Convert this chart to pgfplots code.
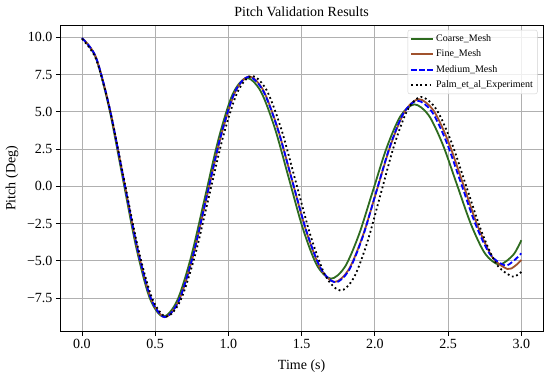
\documentclass[border=0pt]{standalone}
\usepackage{fontspec}
\setmainfont{Liberation Serif}
\usepackage{pgfplots}
\pgfplotsset{compat=1.18}
\definecolor{cgreen}{RGB}{46,107,31}
\definecolor{cbrown}{RGB}{160,82,45}
\definecolor{cblue}{RGB}{0,0,255}
\definecolor{cgrid}{RGB}{176,176,176}
\begin{document}
\begin{tikzpicture}
\useasboundingbox (-60pt,-46.3pt) rectangle (490pt,331.7pt);
\begin{axis}[
  at={(0,0)}, anchor=south west,
  scale only axis, width=483.3pt, height=306.7pt,
  xmin=-0.15, xmax=3.15, ymin=-9.76, ymax=10.83,
  xtick={0,0.5,1,1.5,2,2.5,3},
  xticklabels={0.0,0.5,1.0,1.5,2.0,2.5,3.0},
  ytick={-7.5,-5,-2.5,0,2.5,5,7.5,10},
  yticklabels={−7.5,−5.0,−2.5,0.0,2.5,5.0,7.5,10.0},
  tick align=outside, major tick length=4pt,
  tick style={black, line width=0.8pt},
  xtick pos=bottom, ytick pos=left,
  axis line style={black, line width=0.8pt},
  grid=major, major grid style={cgrid, line width=0.8pt},
  font=\fontsize{14}{16}\selectfont,
  ticklabel style={font=\fontsize{14}{16}\selectfont},
  title={Pitch Validation Results},
  title style={at={(0.5,1)}, anchor=base, yshift=2.5pt, font=\fontsize{14}{16}\selectfont},
  xlabel={Time (s)},
  xlabel style={at={(0.5,0)}, anchor=base, yshift=-38.3pt, font=\fontsize{14}{16}\selectfont},
  ylabel={Pitch (Deg)},
  ylabel style={at={(-0.0921,0.5)}, anchor=base, font=\fontsize{14}{16}\selectfont},
  legend cell align=left,
  legend style={at={(0.988,0.984)}, anchor=north east, font=\fontsize{10}{12}\selectfont,
    draw=gray!35, rounded corners=2pt, fill=white, fill opacity=0.8, text opacity=1,
    inner sep=2.5pt, row sep=3pt},
  legend image code/.code={\draw[#1, line width=1.8pt] (0pt,0pt) -- (22pt,0pt);},
]
\addplot[cgreen, line width=1.8pt, smooth] coordinates {
(0,9.95) (0.0925,8.697) (0.185,5.275) (0.2775,0.6) (0.37,-4.075) (0.4625,-7.497) (0.555,-8.75)
(0.65,-7.676) (0.745,-4.743) (0.84,-0.735) (0.935,3.273) (1.03,6.206) (1.125,7.28)
(1.2208,6.377) (1.3167,3.91) (1.4125,0.54) (1.5083,-2.83) (1.6042,-5.297) (1.70,-6.2)
(1.795,-5.416) (1.89,-3.275) (1.985,-0.35) (2.08,2.575) (2.175,4.716) (2.27,5.5)
(2.3667,4.78) (2.4633,2.8125) (2.56,0.125) (2.6567,-2.5625) (2.7533,-4.53) (2.85,-5.25)
(2.945,-4.597) (3.0,-3.62)
};
\addlegendentry{Coarse\_Mesh}
\addplot[cbrown, line width=1.8pt, smooth] coordinates {
(0,9.95) (0.0942,8.695) (0.1883,5.268) (0.2825,0.585) (0.3767,-4.098) (0.4708,-7.525) (0.565,-8.78)
(0.6608,-7.697) (0.7567,-4.74) (0.8525,-0.7) (0.9483,3.34) (1.0442,6.297) (1.14,7.38)
(1.2375,6.455) (1.335,3.93) (1.4325,0.48) (1.53,-2.97) (1.6275,-5.495) (1.725,-6.42)
(1.8208,-5.598) (1.9167,-3.3525) (2.0125,-0.285) (2.1083,2.7825) (2.2042,5.028) (2.30,5.85)
(2.4008,5.086) (2.5017,3.0) (2.6025,0.15) (2.7033,-2.7) (2.8042,-4.786) (2.905,-5.55)
(2.955,-5.36) (3.0,-4.95)
};
\addlegendentry{Fine\_Mesh}
\addplot[cblue, line width=1.8pt, dash pattern=on 5.5pt off 2.6pt, smooth] coordinates {
(0,9.95) (0.0942,8.695) (0.1883,5.268) (0.2825,0.585) (0.3767,-4.098) (0.4708,-7.525) (0.565,-8.78)
(0.6603,-7.699) (0.7557,-4.745) (0.851,-0.71) (0.9463,3.325) (1.0417,6.279) (1.137,7.36)
(1.2358,6.435) (1.3347,3.9075) (1.4335,0.455) (1.5323,-2.9975) (1.6312,-5.525) (1.73,-6.45)
(1.8233,-5.633) (1.9167,-3.4) (2.01,-0.35) (2.1033,2.7) (2.1967,4.933) (2.29,5.75)
(2.3892,5.01) (2.4883,2.9875) (2.5875,0.225) (2.6867,-2.5375) (2.7858,-4.56) (2.885,-5.3)
(2.94,-5.07) (3.0,-4.5)
};
\addlegendentry{Medium\_Mesh}
\addplot[black, line width=1.8pt, dash pattern=on 1.8pt off 2.8pt, smooth] coordinates {
(0,9.9) (0.0958,8.55) (0.1917,5.1) (0.2875,0.45) (0.3833,-4.15) (0.4792,-7.52) (0.575,-8.75)
(0.6725,-7.667) (0.77,-4.7075) (0.8675,-0.665) (0.965,3.3775) (1.0625,6.337) (1.16,7.42)
(1.2608,6.454) (1.3617,3.815) (1.4625,0.21) (1.5633,-3.395) (1.6642,-6.034) (1.765,-7.0)
(1.8567,-6.129) (1.9483,-3.75) (2.04,-0.5) (2.1317,2.75) (2.2233,5.129) (2.315,6.0)
(2.4183,5.193) (2.5217,2.9875) (2.625,-0.025) (2.7283,-3.0375) (2.8317,-5.243) (2.935,-6.05)
(2.97,-5.97) (3.0,-5.75)
};
\addlegendentry{Palm\_et\_al\_Experiment}
\end{axis}
\end{tikzpicture}
\end{document}
